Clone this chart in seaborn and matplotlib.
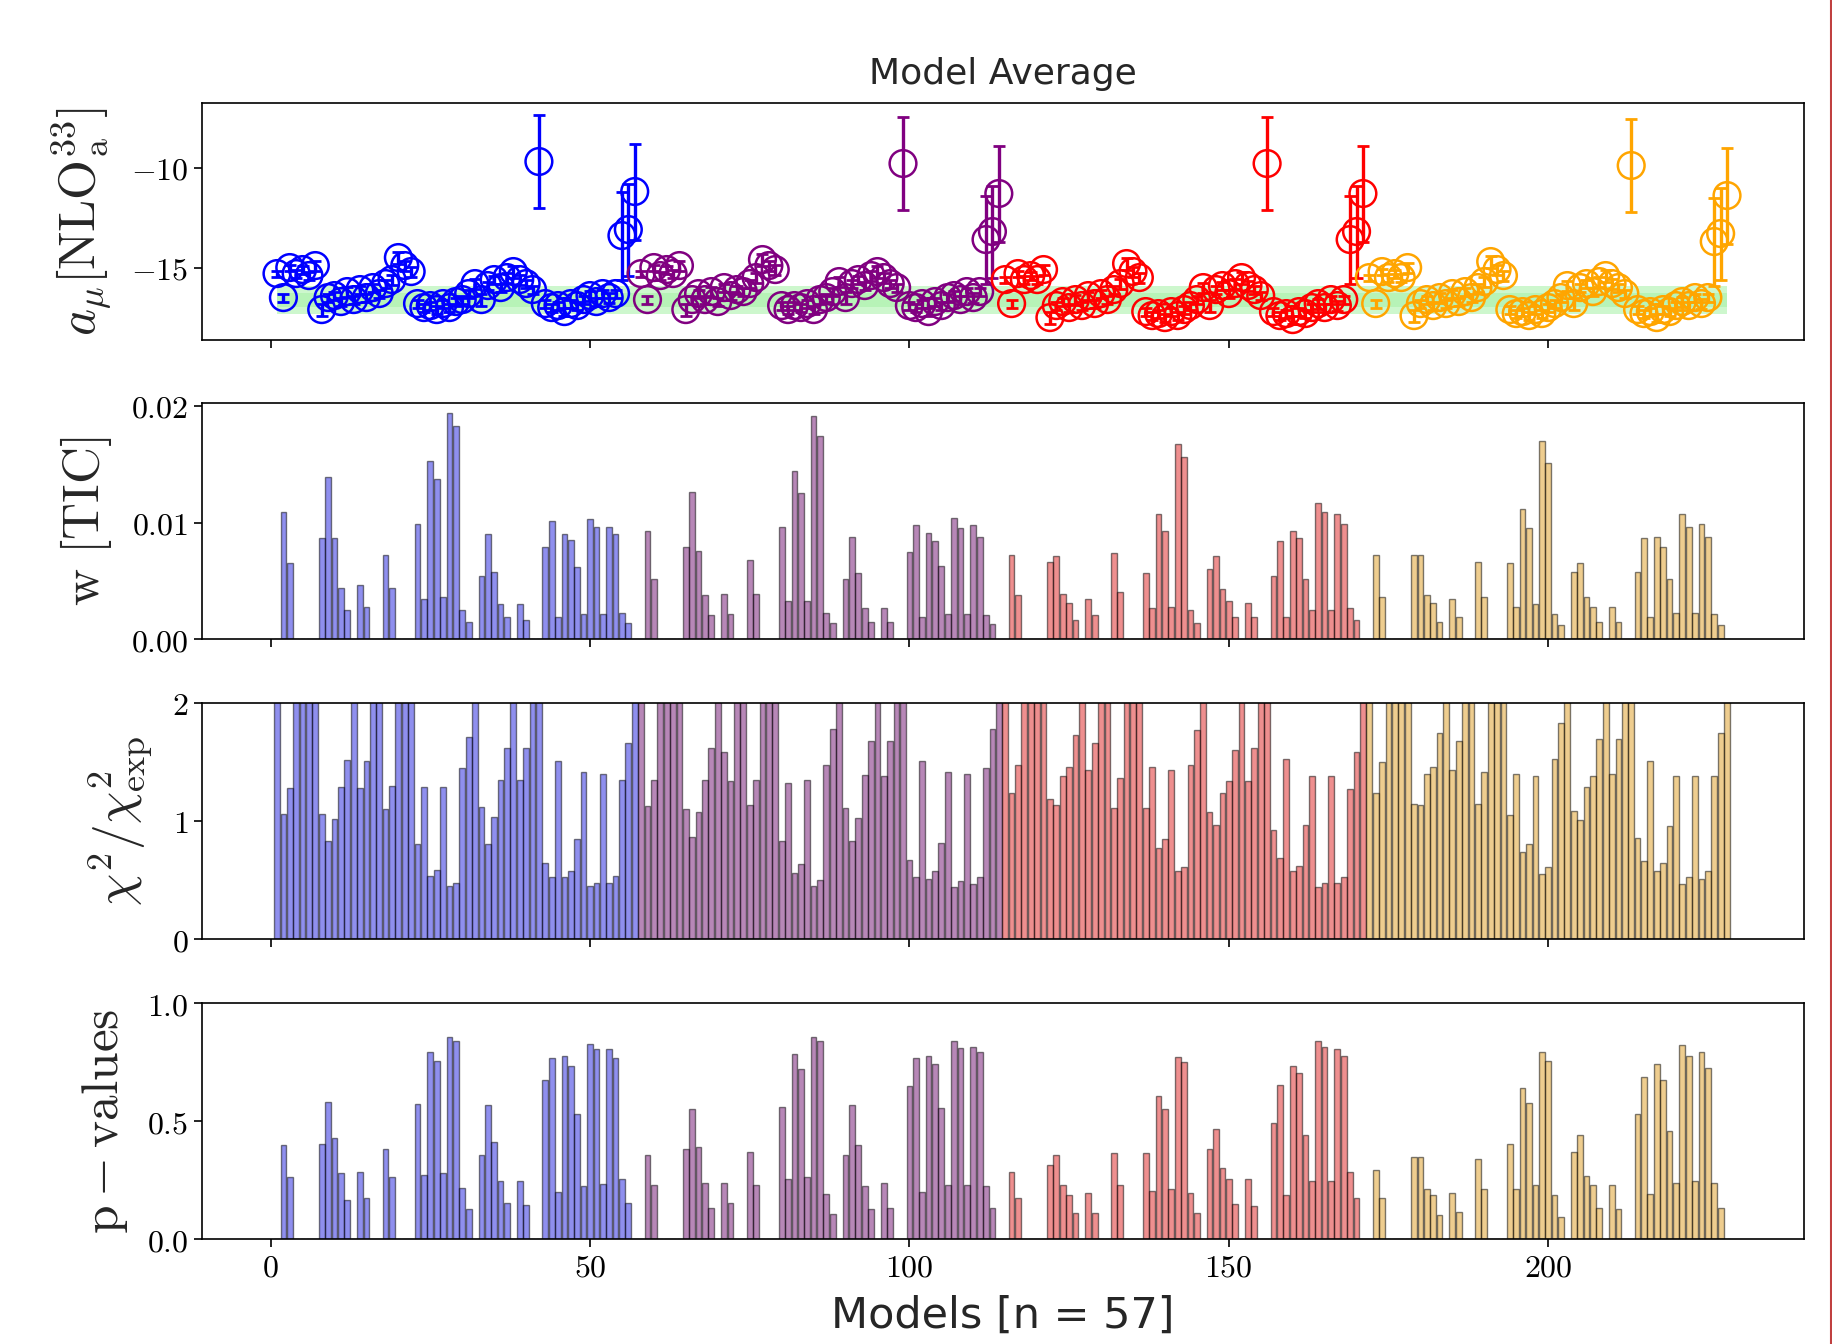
import numpy as np
import pandas as pd
import seaborn as sns
import matplotlib
matplotlib.use('Agg')
from matplotlib import pyplot as plt
from matplotlib.ticker import MultipleLocator, FuncFormatter
from matplotlib.lines import Line2D

# model groups (57 models each)
groups = ['g1', 'g2', 'g3', 'g4']
group_colors = ['blue', 'purple', 'red', 'orange']
n_per_group = 57

# a_mu values per group
amu_g1 = [-15.3, -16.5, -15.0, -15.3, -15.1, -15.4, -14.9, -17.1, -16.5, -16.4,
          -16.7, -16.2, -16.6, -16.1, -16.5, -16.0, -16.3, -15.8, -15.6, -14.5,
          -14.9, -15.2, -16.8, -17.0, -16.9, -17.1, -16.8, -17.0, -16.7, -16.6,
          -16.3, -15.8, -16.6, -15.9, -15.6, -16.0, -15.5, -15.2, -15.6, -15.8,
          -16.1, -9.7, -16.8, -17.0, -16.9, -17.2, -16.8, -16.9, -16.6, -16.4,
          -16.7, -16.3, -16.5, -16.3, -13.4, -13.1, -11.2]
amu_g2 = [-15.3, -16.6, -15.0, -15.4, -15.1, -15.3, -14.9, -17.1, -16.6, -16.3,
          -16.6, -16.2, -16.7, -16.0, -16.4, -16.1, -16.2, -15.8, -15.5, -14.6,
          -14.9, -15.1, -16.9, -17.1, -16.9, -17.0, -16.8, -17.1, -16.6, -16.5,
          -16.2, -15.7, -16.5, -15.8, -15.6, -15.9, -15.4, -15.2, -15.5, -15.8,
          -16.0, -9.8, -16.9, -17.0, -16.8, -17.2, -16.7, -16.9, -16.5, -16.4,
          -16.6, -16.2, -16.5, -16.2, -13.6, -13.2, -11.3]
amu_g3 = [-15.6, -16.8, -15.3, -15.6, -15.4, -15.6, -15.1, -17.5, -16.9, -16.7,
          -17.0, -16.6, -16.9, -16.4, -16.8, -16.3, -16.6, -16.1, -15.8, -14.8,
          -15.2, -15.5, -17.2, -17.4, -17.3, -17.5, -17.2, -17.4, -17.1, -16.9,
          -16.6, -16.0, -16.9, -16.1, -15.9, -16.3, -15.8, -15.5, -15.9, -16.1,
          -16.4, -9.8, -17.2, -17.4, -17.3, -17.6, -17.2, -17.3, -17.0, -16.8,
          -17.0, -16.6, -16.9, -16.6, -13.6, -13.2, -11.3]
amu_g4 = [-15.5, -16.8, -15.2, -15.5, -15.3, -15.5, -15.0, -17.4, -16.8, -16.6,
          -16.9, -16.5, -16.8, -16.3, -16.7, -16.2, -16.5, -16.0, -15.7, -14.7,
          -15.1, -15.4, -17.1, -17.3, -17.2, -17.4, -17.1, -17.3, -17.0, -16.8,
          -16.5, -15.9, -16.8, -16.0, -15.8, -16.2, -15.7, -15.4, -15.8, -16.0,
          -16.3, -9.9, -17.1, -17.3, -17.2, -17.5, -17.1, -17.2, -16.9, -16.7,
          -16.9, -16.5, -16.8, -16.5, -13.7, -13.3, -11.4]
amu_err = [0.15, 0.2, 0.15, 0.2, 0.2, 0.2, 0.25, 0.3, 0.2, 0.2,
           0.2, 0.25, 0.2, 0.2, 0.2, 0.2, 0.2, 0.2, 0.25, 0.3,
           0.25, 0.25, 0.2, 0.2, 0.2, 0.2, 0.2, 0.2, 0.2, 0.2,
           0.2, 0.25, 0.3, 0.2, 0.2, 0.2, 0.25, 0.3, 0.25, 0.2,
           0.2, 2.3, 0.2, 0.2, 0.2, 0.2, 0.2, 0.2, 0.2, 0.25,
           0.2, 0.2, 0.25, 0.2, 2.2, 2.3, 2.4]

# model average band
band_mean = -16.6
band_outer = 0.7
band_inner = 0.35

# weights w [TIC]
w_g1 = [0, 0.0109, 0.0065, 0, 0, 0, 0, 0.0087, 0.0139, 0.0087,
        0.0044, 0.0025, 0, 0.0047, 0.0028, 0, 0, 0.0072, 0.0044, 0,
        0, 0, 0.0099, 0.0035, 0.0153, 0.0137, 0.0036, 0.0194, 0.0183, 0.0025,
        0.0015, 0, 0.0054, 0.0090, 0.0058, 0.0030, 0.0019, 0, 0.0030, 0.0017,
        0, 0, 0.0079, 0.0101, 0.0019, 0.0090, 0.0085, 0.0062, 0.0022, 0.0103,
        0.0096, 0.0022, 0.0096, 0.0090, 0.0023, 0.0014, 0]
w_g2 = [0, 0.0093, 0.0052, 0, 0, 0, 0, 0.0079, 0.0126, 0.0076,
        0.0038, 0.0021, 0, 0.0039, 0.0022, 0, 0, 0.0068, 0.0039, 0,
        0, 0, 0.0096, 0.0033, 0.0144, 0.0125, 0.0033, 0.0191, 0.0174, 0.0023,
        0.0014, 0, 0.0052, 0.0088, 0.0057, 0.0027, 0.0015, 0, 0.0027, 0.0015,
        0, 0, 0.0075, 0.0098, 0.0019, 0.0091, 0.0084, 0.0063, 0.0022, 0.0104,
        0.0095, 0.0022, 0.0098, 0.0088, 0.0021, 0.0013, 0]
w_g3 = [0, 0.0072, 0.0038, 0, 0, 0, 0, 0.0066, 0.0071, 0.0039,
        0.0031, 0.0017, 0, 0.0035, 0.0021, 0, 0, 0.0074, 0.0041, 0,
        0, 0, 0.0057, 0.0027, 0.0107, 0.0093, 0.0028, 0.0167, 0.0156, 0.0025,
        0.0014, 0, 0.0060, 0.0071, 0.0043, 0.0033, 0.0019, 0, 0.0031, 0.0019,
        0, 0, 0.0054, 0.0084, 0.0019, 0.0093, 0.0087, 0.0052, 0.0025, 0.0117,
        0.0109, 0.0025, 0.0107, 0.0099, 0.0027, 0.0017, 0]
w_g4 = [0, 0.0072, 0.0036, 0, 0, 0, 0, 0.0072, 0.0072, 0.0038,
        0.0031, 0.0015, 0, 0.0035, 0.0019, 0, 0, 0.0066, 0.0036, 0,
        0, 0, 0.0065, 0.0028, 0.0112, 0.0095, 0.0030, 0.0170, 0.0151, 0.0022,
        0.0012, 0, 0.0058, 0.0065, 0.0036, 0.0028, 0.0015, 0, 0.0028, 0.0015,
        0, 0, 0.0058, 0.0087, 0.0019, 0.0088, 0.0079, 0.0052, 0.0023, 0.0107,
        0.0096, 0.0023, 0.0099, 0.0088, 0.0022, 0.0012, 0]

# chi2 / chi2_exp
chi_g1 = [3.2, 1.06, 1.28, 4.5, 5.1, 3.8, 2.9, 1.06, 0.83, 1.02,
          1.29, 1.52, 2.4, 1.28, 1.51, 2.6, 3.0, 1.10, 1.30, 2.7,
          3.5, 2.8, 0.81, 1.29, 0.54, 0.59, 1.29, 0.45, 0.48, 1.45,
          1.71, 2.3, 1.12, 0.81, 1.04, 1.35, 1.62, 2.2, 1.35, 1.62,
          2.5, 3.3, 0.65, 0.53, 1.51, 0.53, 0.58, 0.85, 1.42, 0.45,
          0.48, 1.40, 0.48, 0.54, 1.35, 1.66, 2.4]
chi_g2 = [2.8, 1.13, 1.35, 3.9, 4.4, 3.4, 2.6, 1.10, 0.87, 1.08,
          1.35, 1.62, 2.3, 1.59, 1.34, 2.5, 2.9, 1.14, 1.35, 2.6,
          3.2, 2.7, 0.83, 1.32, 0.56, 0.64, 1.35, 0.45, 0.50, 1.48,
          1.78, 2.2, 1.11, 0.83, 1.03, 1.39, 1.68, 2.1, 1.38, 1.68,
          2.4, 3.1, 0.67, 0.53, 1.51, 0.51, 0.58, 0.82, 1.42, 0.44,
          0.49, 1.40, 0.47, 0.53, 1.45, 1.78, 2.3]
chi_g3 = [2.7, 1.24, 1.48, 3.6, 4.0, 3.1, 2.5, 1.19, 1.14, 1.38,
          1.46, 1.73, 2.2, 1.43, 1.66, 2.4, 2.8, 1.11, 1.37, 2.5,
          3.0, 2.6, 1.11, 1.46, 0.77, 0.85, 1.43, 0.58, 0.61, 1.48,
          1.77, 2.1, 1.08, 0.97, 1.24, 1.34, 1.60, 2.1, 1.34, 1.62,
          2.3, 2.9, 0.93, 0.69, 1.53, 0.58, 0.62, 0.97, 1.38, 0.44,
          0.48, 1.38, 0.48, 0.53, 1.27, 1.59, 2.2]
chi_g4 = [2.6, 1.24, 1.50, 3.5, 3.9, 3.0, 2.4, 1.15, 1.14, 1.40,
          1.46, 1.75, 2.2, 1.43, 1.68, 2.3, 2.7, 1.15, 1.42, 2.4,
          2.9, 2.5, 1.05, 1.40, 0.74, 0.81, 1.38, 0.55, 0.61, 1.53,
          1.83, 2.1, 1.09, 1.01, 1.29, 1.38, 1.70, 2.1, 1.40, 1.70,
          2.3, 2.8, 0.86, 0.66, 1.51, 0.58, 0.65, 0.96, 1.38, 0.47,
          0.53, 1.38, 0.51, 0.58, 1.38, 1.75, 2.3]

# p-values
p_g1 = [0, 0.397, 0.264, 0, 0, 0, 0, 0.405, 0.579, 0.428,
        0.279, 0.168, 0, 0.286, 0.175, 0, 0, 0.380, 0.262, 0,
        0, 0, 0.571, 0.272, 0.792, 0.753, 0.279, 0.855, 0.840, 0.215,
        0.127, 0, 0.358, 0.568, 0.412, 0.247, 0.152, 0, 0.246, 0.145,
        0, 0, 0.673, 0.767, 0.199, 0.775, 0.734, 0.532, 0.225, 0.825,
        0.806, 0.233, 0.806, 0.767, 0.254, 0.152, 0]
p_g2 = [0, 0.355, 0.231, 0, 0, 0, 0, 0.380, 0.553, 0.390,
        0.238, 0.134, 0, 0.238, 0.152, 0, 0, 0.370, 0.231, 0,
        0, 0, 0.561, 0.254, 0.785, 0.720, 0.263, 0.855, 0.840, 0.192,
        0.105, 0, 0.355, 0.568, 0.397, 0.225, 0.127, 0, 0.240, 0.130,
        0, 0, 0.649, 0.767, 0.198, 0.775, 0.744, 0.556, 0.231, 0.838,
        0.809, 0.231, 0.814, 0.792, 0.225, 0.130, 0]
p_g3 = [0, 0.283, 0.175, 0, 0, 0, 0, 0.315, 0.355, 0.228,
        0.189, 0.110, 0, 0.197, 0.110, 0, 0, 0.363, 0.228, 0,
        0, 0, 0.363, 0.204, 0.608, 0.553, 0.214, 0.773, 0.751, 0.197,
        0.110, 0, 0.380, 0.467, 0.301, 0.253, 0.149, 0, 0.253, 0.142,
        0, 0, 0.491, 0.655, 0.189, 0.734, 0.702, 0.442, 0.246, 0.838,
        0.814, 0.246, 0.806, 0.775, 0.283, 0.175, 0]
p_g4 = [0, 0.293, 0.175, 0, 0, 0, 0, 0.348, 0.348, 0.214,
        0.185, 0.103, 0, 0.197, 0.117, 0, 0, 0.340, 0.214, 0,
        0, 0, 0.405, 0.214, 0.640, 0.578, 0.231, 0.792, 0.753, 0.185,
        0.095, 0, 0.370, 0.442, 0.269, 0.228, 0.134, 0, 0.228, 0.127,
        0, 0, 0.529, 0.688, 0.192, 0.744, 0.673, 0.460, 0.236, 0.824,
        0.775, 0.246, 0.792, 0.727, 0.236, 0.134, 0]

amu_all = [amu_g1, amu_g2, amu_g3, amu_g4]
w_all = [w_g1, w_g2, w_g3, w_g4]
chi_all = [chi_g1, chi_g2, chi_g3, chi_g4]
p_all = [p_g1, p_g2, p_g3, p_g4]

rows = []
for gi, g in enumerate(groups):
    for k in range(n_per_group):
        rows.append({'model': gi * n_per_group + k + 1, 'group': g,
                     'amu': amu_all[gi][k], 'err': amu_err[k],
                     'w': w_all[gi][k], 'chi2': chi_all[gi][k], 'p': p_all[gi][k]})
df = pd.DataFrame(rows)
pal = dict(zip(groups, group_colors))

sns.set_style('ticks')
plt.rcParams['font.family'] = ['DejaVu Sans']
plt.rcParams['mathtext.fontset'] = 'cm'

fig, axes = plt.subplots(4, 1, figsize=(18.33, 13.44), dpi=100, sharex=True)
fig.subplots_adjust(left=0.110, right=0.984, top=0.923, bottom=0.078, hspace=0.27)

# top panel: a_mu with errorbars
ax = axes[0]
xb = [df['model'].min(), df['model'].max()]
ax.fill_between(xb, band_mean - band_outer, band_mean + band_outer,
                color='#90ee90', alpha=0.45, lw=0, zorder=1)
ax.fill_between(xb, band_mean - band_inner, band_mean + band_inner,
                color='#90ee90', alpha=0.35, lw=0, zorder=1)
for g, c in zip(groups, group_colors):
    d = df[df['group'] == g]
    ax.errorbar(d['model'], d['amu'], yerr=d['err'], fmt='none', ecolor=c,
                elinewidth=2.4, capsize=4, capthick=2, zorder=2)
sns.scatterplot(data=df, x='model', y='amu', hue='group', palette=pal, s=370,
                linewidth=1.8, legend=False, ax=ax, zorder=3)
pts = ax.collections[-1]
pts.set_edgecolors(pts.get_facecolors())
pts.set_facecolors('none')
ax.set_ylim(-18.6, -6.8)
ax.yaxis.set_major_locator(MultipleLocator(5))
ax.yaxis.set_major_formatter(FuncFormatter(lambda v, p: f'${v:.0f}$'))
ax.set_ylabel(r'$a_{\mu}[\mathrm{NLO}^{33}_{\mathrm{a}}]$', fontsize=37, labelpad=12)
ax.set_title('Model Average', fontsize=26, pad=14)

# bar panels
bar_specs = [('w', r'$\mathrm{w\ [TIC]}$', (0, 0.0202), 0.01, '{:.2f}'),
             ('chi2', r'$\chi^2/\chi^2_{\mathrm{exp}}$', (0, 2), 1, '{:.0f}'),
             ('p', r'$\mathrm{p-values}$', (0, 1.0), 0.5, '{:.1f}')]
for ax, (col, lab, lim, step, fmt) in zip(axes[1:], bar_specs):
    sns.barplot(data=df, x='model', y=col, hue='group', palette=pal,
                native_scale=True, dodge=False, width=0.9, alpha=0.5,
                edgecolor='k', linewidth=1.0, errorbar=None, legend=False, ax=ax)
    ax.set_ylim(*lim)
    ax.yaxis.set_major_locator(MultipleLocator(step))
    ax.yaxis.set_major_formatter(FuncFormatter(lambda v, p, f=fmt: '$' + f.format(v) + '$'))
    ax.set_ylabel(lab, fontsize=37, labelpad=12)

for ax in axes:
    ax.set_xlim(-10.8, 240.0)
    ax.xaxis.set_major_locator(MultipleLocator(50))
    ax.xaxis.set_major_formatter(FuncFormatter(lambda v, p: f'${v:.0f}$'))
    ax.tick_params(labelsize=23, direction='out', length=6, width=1.2, colors='k')
    for s in ax.spines.values():
        s.set_linewidth(1.2)
        s.set_color('k')
    ax.set_xlabel('')
axes[-1].set_xlabel('Models [n = 57]', fontsize=31, labelpad=8)

fig.add_artist(Line2D([0.999, 0.999], [0, 1], color='#c04040', lw=1.5))

fig.savefig('out.png', dpi=100)
